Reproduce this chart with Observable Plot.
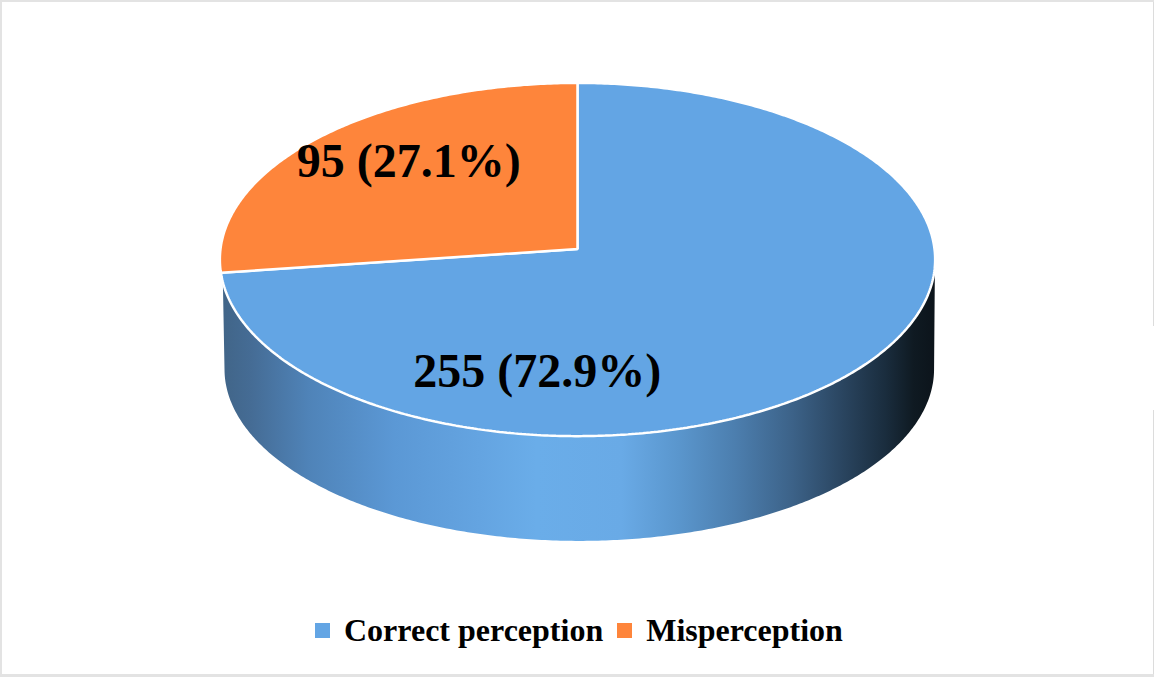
<!DOCTYPE html>
<html>
<head>
<meta charset="utf-8">
<script src="https://cdn.jsdelivr.net/npm/d3@7"></script>
<script src="https://cdn.jsdelivr.net/npm/@observablehq/plot@0.6"></script>
<style>
  html, body { margin: 0; padding: 0; background: #fff; }
  #frame { position: relative; box-sizing: border-box; width: 1154px; height: 677px; overflow: hidden; background: #fff;
           border-top: 2px solid #e3e3e3; border-left: 2px solid #e3e3e3; border-bottom: 3px solid #e3e3e3; }
  #chart { position: absolute; left: -2px; top: -2px; }
  #chart svg { display: block; }
  .edge { position: absolute; right: 0; width: 1px; background: #dcdcdc; }
  #legend { position: absolute; left: 313px; top: 608px; display: flex; align-items: center; height: 40px;
            font: bold 32px "Liberation Serif", serif; color: #000; white-space: nowrap; }
  #legend i { display: inline-block; width: 15px; height: 15px; margin-right: 14px; }
  #legend span { display: inline-flex; align-items: center; margin-right: 14px; }
</style>
</head>
<body>
<div id="frame">
  <div id="chart"></div>
  <div class="edge" style="top:0;height:324px"></div>
  <div class="edge" style="top:408px;height:264px"></div>
  <div id="legend"></div>
</div>
<script>
// Survey counts per perception group
const categories = ["Correct perception", "Misperception"];
const counts = [255, 95];
const sliceColors = ["#63a5e4", "#fe853b"];

// Data labels, placed in disc units
const labelX = [-0.113, -0.473];
const labelY = [0.695, -0.495];

// Tilted-disc projection: vanishing factor, and the lower rim relative to the top rim
const tilt = -0.0595;
const rimDrop = 0.625;
const rimShift = 0.005;
const rimWidth = 0.992;
const rimHeight = 0.972;

// Shading along the side wall, from the left edge to the right edge
const wallStops = [
  [0.00, "#416588"], [0.04, "#456c95"], [0.12, "#4f83b8"], [0.24, "#5b98d5"], [0.36, "#64a4e1"],
  [0.44, "#6aade9"], [0.56, "#69aae6"], [0.64, "#5a96cd"], [0.72, "#4c7eae"], [0.80, "#3c6288"],
  [0.87, "#2a4560"], [0.93, "#1a2d3e"], [0.97, "#0f1a22"], [1.00, "#0c141b"]
];

const width = 1154;
const height = 600;
const pxPerUnitX = 357;
const pxPerUnitY = 176;
const apexPx = 248.5;

const total = d3.sum(counts);
const project = (theta, drop = 0, wx = 1, wy = 1, shift = 0) => {
  const u = Math.sin(theta), d = -Math.cos(theta), w = 1 + tilt * d;
  return {x: shift + wx * u / w, y: drop + wy * d / w};
};

// Top face: one closed outline per category
const cum = d3.cumsum(counts);
const slices = categories.flatMap((name, i) => {
  const a0 = ((i ? cum[i - 1] : 0) / total) * 2 * Math.PI;
  const a1 = (cum[i] / total) * 2 * Math.PI;
  const n = Math.ceil((a1 - a0) / 0.01);
  const rim = d3.range(n + 1).map((k) => ({name, ...project(a0 + (a1 - a0) * k / n)}));
  return [{name, x: 0, y: 0}, ...rim];
});

// Side wall: front half of the top rim, back along the lower rim
const sweep = (from, to, drop, wx, wy, shift) => {
  const n = 300;
  return d3.range(n + 1).map((k) => project(from + (to - from) * k / n, drop, wx, wy, shift));
};
const wall = [
  ...sweep(1.44 * Math.PI, 0.53 * Math.PI, 0, 1, 1, 0),
  ...sweep(0.52 * Math.PI, 1.48 * Math.PI, rimDrop, rimWidth, rimHeight, rimShift)
];

const labels = categories.map((name, i) => ({
  text: `${counts[i]} (${(counts[i] / total * 100).toFixed(1)}%)`,
  x: labelX[i],
  y: labelY[i]
}));

const wallGradient = () => {
  const defs = d3.create("svg:defs");
  const g = defs.append("linearGradient").attr("id", "wallShade").attr("x1", 0).attr("x2", 1).attr("y1", 0).attr("y2", 0);
  for (const [o, c] of wallStops) g.append("stop").attr("offset", o).attr("stop-color", c);
  return defs.node();
};

const chart = Plot.plot({
  width,
  height,
  margin: 0,
  x: {domain: [-width / 2 / pxPerUnitX, width / 2 / pxPerUnitX], range: [0, width], axis: null},
  y: {domain: [-apexPx / pxPerUnitY, (height - apexPx) / pxPerUnitY], range: [0, height], axis: null},
  color: {domain: categories, range: sliceColors},
  marks: [
    wallGradient,
    Plot.line(wall, {x: "x", y: "y", curve: "linear-closed", fill: "url(#wallShade)", stroke: "none"}),
    Plot.line(slices, {
      x: "x", y: "y", z: "name", curve: "linear-closed",
      fill: "name", stroke: "white", strokeWidth: 2.5, strokeLinejoin: "miter"
    }),
    Plot.text(labels, {
      x: "x", y: "y", text: "text", fill: "black", textAnchor: "middle", lineAnchor: "middle",
      fontFamily: "Liberation Serif", fontWeight: "bold", fontSize: 48
    })
  ]
});
document.getElementById("chart").append(chart);

// Legend below the plot
const legend = document.getElementById("legend");
categories.forEach((name, i) => {
  const item = document.createElement("span");
  const key = document.createElement("i");
  key.style.background = sliceColors[i];
  item.append(key, name);
  legend.append(item);
});
</script>
</body>
</html>
